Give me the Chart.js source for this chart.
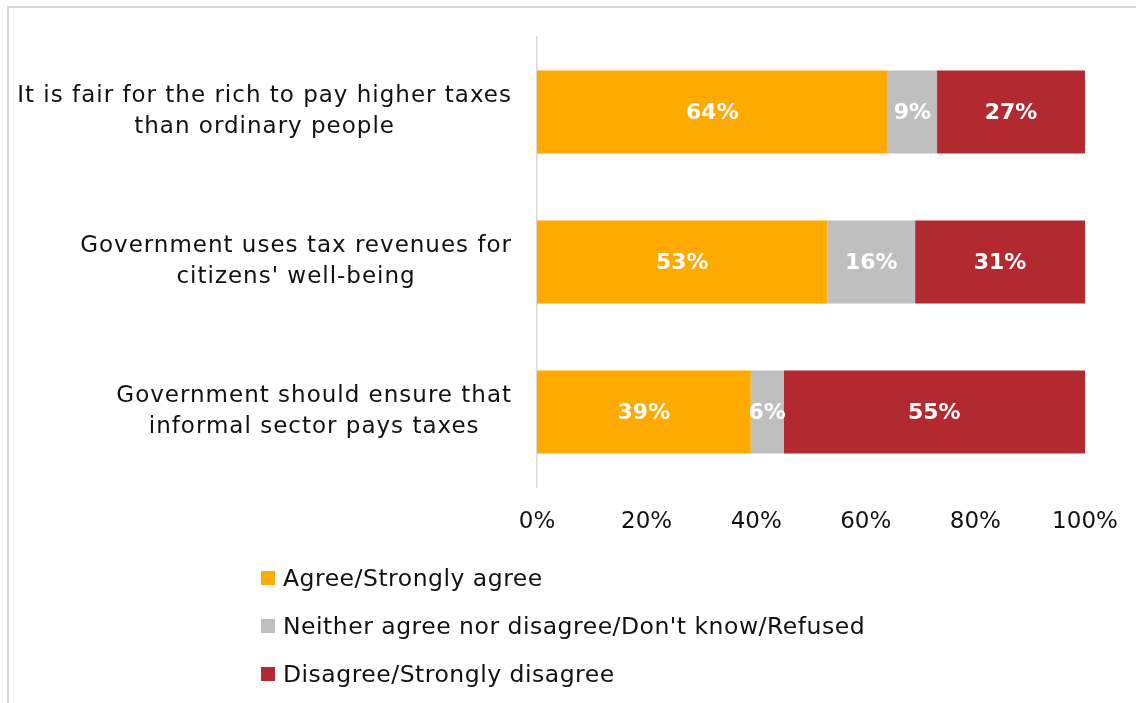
<!DOCTYPE html>
<html>
<head>
<meta charset="utf-8">
<script src="https://cdn.jsdelivr.net/npm/chart.js@4/dist/chart.umd.min.js"></script>
<style>
  html, body { margin: 0; padding: 0; background: #fff; }
  #wrap { position: relative; width: 1136px; height: 703px; overflow: hidden; }
  #frame {
    position: absolute; left: 7px; top: 6px; width: 1200px; height: 800px;
    border-top: 2px solid #d9d9d9; border-left: 2px solid #d9d9d9;
  }
  #chartBox { position: absolute; left: 0; top: 0; width: 1136px; height: 703px; }
  #legend {
    position: absolute; left: 261px; top: 554px;
    font-family: "DejaVu Sans", sans-serif; font-size: 23.5px; letter-spacing: 0.5px; color: #111;
  }
  .item { display: flex; align-items: center; height: 48px; white-space: nowrap; }
  .swatch { width: 14px; height: 14px; margin-right: 8px; flex: none; }
</style>
</head>
<body>
<div id="wrap">
  <div id="frame"></div>
  <div id="chartBox"><canvas id="chart"></canvas></div>
  <div id="legend"></div>
</div>
<script>
/* ===== DATA ===== */
const CATEGORIES = [
  ["It is fair for the rich to pay higher taxes", "than ordinary people"],
  ["Government uses tax revenues for", "citizens' well-being"],
  ["Government should ensure that", "informal sector pays taxes"]
];
const SERIES = [
  "Agree/Strongly agree",
  "Neither agree nor disagree/Don't know/Refused",
  "Disagree/Strongly disagree"
];
const AGREE = [64, 53, 39];
const NEITHER = [9, 16, 6];
const DISAGREE = [27, 31, 55];
const X_TICKS = [0, 20, 40, 60, 80, 100];
const COLORS = ["#FFAA00", "#BFBFBF", "#B22930"];
/* ================ */

const FONT = '"DejaVu Sans", sans-serif';

// category labels: each row block is right-aligned to the axis, its lines centred
const categoryLabels = {
  id: "categoryLabels",
  afterDraw(chart) {
    const ctx = chart.ctx;
    const y = chart.scales.y;
    const right = y.right - 25;
    const lineH = 31;
    ctx.save();
    ctx.font = "23px " + FONT;
    ctx.letterSpacing = "1px";
    ctx.fillStyle = "#111";
    ctx.textAlign = "center";
    ctx.textBaseline = "middle";
    CATEGORIES.forEach((lines, i) => {
      const cy = y.getPixelForTick(i);
      const w = Math.max(...lines.map((l) => ctx.measureText(l).width));
      const cx = right - w / 2;
      const top = cy - ((lines.length - 1) * lineH) / 2;
      lines.forEach((l, j) => ctx.fillText(l, cx, top + j * lineH));
    });
    ctx.restore();
  }
};

// white value labels in the middle of each segment
const valueLabels = {
  id: "valueLabels",
  afterDatasetsDraw(chart) {
    const ctx = chart.ctx;
    ctx.save();
    ctx.font = "bold 22px " + FONT;
    ctx.fillStyle = "#fff";
    ctx.textAlign = "center";
    ctx.textBaseline = "middle";
    chart.data.datasets.forEach((ds, di) => {
      chart.getDatasetMeta(di).data.forEach((bar, i) => {
        const v = ds.data[i];
        ctx.fillText(v + "%", (bar.x + bar.base) / 2, bar.y + 1);
      });
    });
    ctx.restore();
  }
};

new Chart(document.getElementById("chart"), {
  type: "bar",
  data: {
    labels: CATEGORIES,
    datasets: [AGREE, NEITHER, DISAGREE].map((d, i) => ({
      label: SERIES[i],
      data: d,
      backgroundColor: COLORS[i],
      borderWidth: 0,
      categoryPercentage: 1,
      barPercentage: 0.553
    }))
  },
  options: {
    indexAxis: "y",
    responsive: true,
    maintainAspectRatio: false,
    animation: false,
    layout: { padding: { top: 37, right: 51, left: 0, bottom: 0 } },
    plugins: { legend: { display: false }, tooltip: { enabled: false } },
    scales: {
      x: {
        stacked: true,
        min: 0,
        max: 100,
        afterBuildTicks: (s) => { s.ticks = X_TICKS.map((v) => ({ value: v })); },
        afterFit: (s) => {
          s.height = 216;
          s.paddingLeft = 0;
          s.paddingRight = 0;
        },
        grid: { display: false, drawTicks: false, tickLength: 0 },
        border: { display: false },
        ticks: {
          padding: 21,
          color: "#111",
          font: { family: FONT, size: 23 },
          maxRotation: 0,
          callback: (v) => v + "%"
        }
      },
      y: {
        stacked: true,
        afterFit: (s) => { s.width = 537; },
        grid: { display: false, drawTicks: false, tickLength: 0 },
        border: { display: true, color: "#d9d9d9", width: 1.5 },
        ticks: { display: false }
      }
    }
  },
  plugins: [categoryLabels, valueLabels]
});

// legend list below the chart
const legend = document.getElementById("legend");
SERIES.forEach((name, i) => {
  const row = document.createElement("div");
  row.className = "item";
  row.innerHTML = `<span class="swatch" style="background:${COLORS[i]}"></span><span>${name}</span>`;
  legend.appendChild(row);
});
</script>
</body>
</html>
